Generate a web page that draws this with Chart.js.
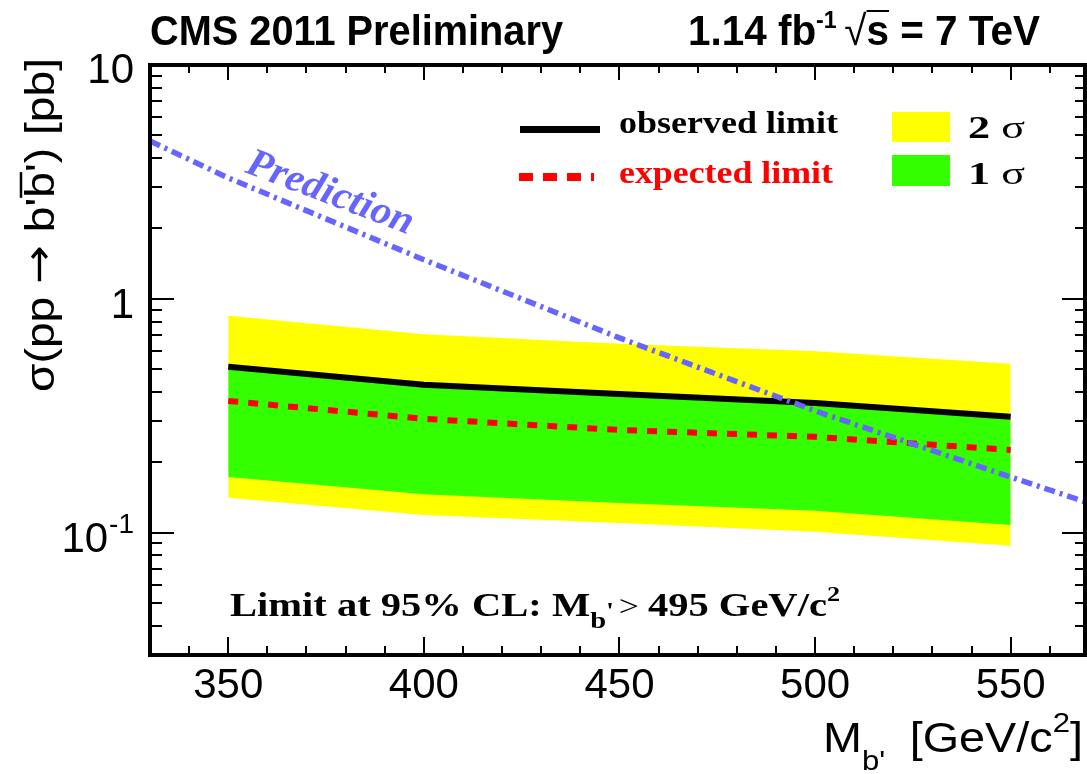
<!DOCTYPE html>
<html>
<head>
<meta charset="utf-8">
<script src="https://cdn.jsdelivr.net/npm/chart.js@4.4.1/dist/chart.umd.min.js"></script>
<style>
html,body{margin:0;padding:0;background:#fff;}
canvas{display:block;}
</style>
</head>
<body>
<canvas id="c" width="1087" height="774"></canvas>
<script>
// ---- data ----
const masses       = [350, 400, 450, 500, 550];
const observed     = [0.512, 0.429, 0.392, 0.359, 0.313];
const expected     = [0.366, 0.307, 0.275, 0.257, 0.226];
const band1Up      = [0.500, 0.420, 0.384, 0.352, 0.305];
const band1Lo      = [0.173, 0.146, 0.134, 0.124, 0.108];
const band2Up      = [0.846, 0.705, 0.642, 0.597, 0.528];
const band2Lo      = [0.141, 0.119, 0.110, 0.101, 0.088];
const predMasses   = [330, 350, 400, 450, 500, 550, 570];
const prediction   = [4.73, 3.29, 1.47, 0.681, 0.332, 0.173, 0.134];
const xTickLabels  = [350, 400, 450, 500, 550];
const yDecades     = [0.1, 1, 10];

const pts = (xs, ys) => xs.map((x, i) => ({x: x, y: ys[i]}));

const SANS = "'Liberation Sans', Arial, Helvetica, sans-serif";
const SERIF = "'Liberation Serif', 'Times New Roman', serif";

function drawParts(ctx, parts, x, y, opts) {
  opts = opts || {};
  let total = 0;
  const widths = parts.map(p => { ctx.font = p.font; const w = ctx.measureText(p.t).width + (p.gap || 0); total += w; return w; });
  const k = opts.w ? opts.w / total : 1;
  ctx.save();
  ctx.translate(x, y);
  if (opts.rot) ctx.rotate(opts.rot);
  if (opts.align === 'right') ctx.translate(-total * k, 0);
  ctx.scale(k, 1);
  let cx = 0;
  parts.forEach((p, i) => {
    ctx.font = p.font;
    ctx.fillStyle = p.color || opts.color || '#000';
    ctx.textAlign = 'left';
    ctx.textBaseline = 'alphabetic';
    ctx.fillText(p.t, cx, p.dy || 0);
    if (p.over) {
      ctx.strokeStyle = p.color || opts.color || '#000';
      ctx.lineWidth = p.overW || 2;
      ctx.beginPath();
      ctx.moveTo(cx + (p.overX0 || 0), p.over);
      ctx.lineTo(cx + widths[i] - (p.gap || 0), p.over);
      ctx.stroke();
    }
    cx += widths[i];
  });
  ctx.restore();
}

const decorPlugin = {
  id: 'decor',
  afterDraw(chart) {
    const ctx = chart.ctx;
    const xs = chart.scales.x, ys = chart.scales.y;
    const a = chart.chartArea;
    ctx.save();
    // ---- ticks ----
    ctx.strokeStyle = '#000';
    ctx.lineWidth = 2;
    ctx.beginPath();
    for (let v = 340; v <= 560; v += 10) {
      const px = Math.round(xs.getPixelForValue(v));
      const len = (v % 50 === 0) ? 18 : 9;
      ctx.moveTo(px, a.bottom); ctx.lineTo(px, a.bottom - len);
      ctx.moveTo(px, a.top); ctx.lineTo(px, a.top + (v % 50 === 0 ? 15 : 8));
    }
    const yMin = ys.min, yMax = ys.max;
    for (let d = 0.01; d < yMax * 1.01; d *= 10) {
      for (let m = 1; m <= 9; m++) {
        const v = d * m;
        if (v < yMin * 0.999 || v > yMax * 1.001) continue;
        const py = Math.round(ys.getPixelForValue(v));
        const major = (m === 1);
        ctx.moveTo(a.left, py); ctx.lineTo(a.left + (major ? 24 : 12), py);
        ctx.moveTo(a.right, py); ctx.lineTo(a.right - (major ? 23 : 10), py);
      }
    }
    ctx.stroke();
    // ---- frame ----
    ctx.lineWidth = 4;
    ctx.strokeRect(a.left, a.top, a.right - a.left, a.bottom - a.top);

    // ---- x tick labels ----
    ctx.fillStyle = '#000';
    ctx.font = '42px ' + SANS;
    ctx.textAlign = 'center';
    ctx.textBaseline = 'alphabetic';
    xTickLabels.forEach(v => ctx.fillText(String(v), xs.getPixelForValue(v), 698));

    // ---- y tick labels ----
    ctx.textAlign = 'right';
    yDecades.forEach(v => {
      const py = ys.getPixelForValue(v);
      if (v === 10) { ctx.font = '42px ' + SANS; ctx.fillText('10', 134, py + 18); }
      else if (v === 1) { ctx.font = '42px ' + SANS; ctx.fillText('1', 134, py + 19); }
      else {
        ctx.font = '28px ' + SANS;
        const w = ctx.measureText('-1').width;
        ctx.fillText('-1', 134, py);
        ctx.font = '42px ' + SANS;
        ctx.fillText('10', 134 - w - 1, py + 19);
      }
    });

    // ---- axis titles ----
    drawParts(ctx, [
      {t: 'M', font: '42px ' + SANS},
      {t: "b'", font: '28px ' + SANS, dy: 18, gap: 22},
      {t: '[GeV/c', font: '42px ' + SANS},
      {t: '2', font: '28px ' + SANS, dy: -20},
      {t: ']', font: '42px ' + SANS}
    ], 823, 752, {w: 260});

    drawParts(ctx, [
      {t: 'σ(pp ', font: '40px ' + SANS},
      {t: '→', font: "40px 'DejaVu Sans', sans-serif", dy: -2},
      {t: ' b\'', font: '40px ' + SANS},
      {t: 'b', font: '40px ' + SANS, over: -33, overW: 2.5},
      {t: '\') [pb]', font: '40px ' + SANS}
    ], 54, 392, {rot: -Math.PI / 2, w: 334});

    // ---- header ----
    drawParts(ctx, [{t: 'CMS 2011 Preliminary', font: 'bold 42px ' + SANS}], 150, 45, {w: 413});
    drawParts(ctx, [
      {t: '1.14 fb', font: 'bold 42px ' + SANS},
      {t: '-1', font: 'bold 24px ' + SANS, dy: -17, gap: 8},
      {t: '√', font: '42px ' + SANS},
      {t: 's', font: 'bold 42px ' + SANS, over: -34, overW: 2},
      {t: ' = 7 TeV', font: 'bold 42px ' + SANS}
    ], 688, 45, {w: 352});

    // ---- legend ----
    ctx.lineCap = 'butt';
    ctx.setLineDash([]);
    ctx.strokeStyle = '#000';
    ctx.lineWidth = 7;
    ctx.beginPath(); ctx.moveTo(520, 129.5); ctx.lineTo(600, 129.5); ctx.stroke();
    ctx.strokeStyle = '#ff0000';
    ctx.lineWidth = 8;
    ctx.setLineDash([14, 10]);
    ctx.beginPath(); ctx.moveTo(519, 177); ctx.lineTo(594, 177); ctx.stroke();
    ctx.setLineDash([]);
    drawParts(ctx, [{t: 'observed limit', font: 'bold 32px ' + SERIF}], 619, 133, {w: 219});
    drawParts(ctx, [{t: 'expected limit', font: 'bold 32px ' + SERIF, color: '#ff0000'}], 619, 183, {w: 214});
    ctx.fillStyle = '#ffff00';
    ctx.fillRect(892, 112, 58, 30);
    ctx.fillStyle = '#33ff00';
    ctx.fillRect(892, 155, 58, 31);
    drawParts(ctx, [{t: '2 ', font: 'bold 32px ' + SERIF}, {t: 'σ', font: '32px ' + SERIF}], 968, 138, {w: 57});
    drawParts(ctx, [{t: '1 ', font: 'bold 32px ' + SERIF}, {t: 'σ', font: '32px ' + SERIF}], 968, 184, {w: 57});

    // ---- prediction label ----
    drawParts(ctx, [{t: 'Prediction', font: 'italic bold 40px ' + SERIF, color: '#6666ff'}], 244, 172,
      {rot: Math.atan2(62, 163), w: 176});

    // ---- limit text ----
    drawParts(ctx, [
      {t: 'Limit at 95% CL: M', font: 'bold 34px ' + SERIF},
      {t: 'b', font: 'bold 24px ' + SERIF, dy: 12},
      {t: "'", font: 'bold 24px ' + SERIF, dy: 2, gap: 4},
      {t: '> ', font: '30px ' + SERIF},
      {t: '495 GeV/c', font: 'bold 34px ' + SERIF},
      {t: '2', font: 'bold 22px ' + SERIF, dy: -15}
    ], 230, 616, {w: 610});

    ctx.restore();
  }
};

new Chart(document.getElementById('c'), {
  type: 'line',
  data: {
    datasets: [
      {label: '2 sigma up', data: pts(masses, band2Up), fill: 1, backgroundColor: '#ffff00', borderWidth: 0, pointRadius: 0, order: 10},
      {label: '2 sigma down', data: pts(masses, band2Lo), fill: false, borderWidth: 0, pointRadius: 0, order: 9},
      {label: '1 sigma up', data: pts(masses, band1Up), fill: 3, backgroundColor: '#33ff00', borderWidth: 0, pointRadius: 0, order: 8},
      {label: '1 sigma down', data: pts(masses, band1Lo), fill: false, borderWidth: 0, pointRadius: 0, order: 7},
      {label: 'expected limit', data: pts(masses, expected), borderColor: '#ff0000', borderWidth: 6, borderDash: [10, 10], pointRadius: 0, fill: false, order: 3},
      {label: 'observed limit', data: pts(masses, observed), borderColor: '#000000', borderWidth: 6, pointRadius: 0, fill: false, order: 2},
      {label: 'Prediction', data: pts(predMasses, prediction), borderColor: '#6666ff', borderWidth: 5.5, borderDash: [11, 5, 3, 5], pointRadius: 0, fill: false, order: 1}
    ]
  },
  options: {
    responsive: false,
    animation: false,
    devicePixelRatio: 1,
    layout: {padding: {left: 150, right: 2, top: 65, bottom: 119}},
    plugins: {legend: {display: false}, title: {display: false}, tooltip: {enabled: false}},
    elements: {line: {tension: 0, borderCapStyle: 'butt'}},
    scales: {
      x: {type: 'linear', min: 330, max: 569, display: false},
      y: {type: 'logarithmic', min: 0.03, max: 10, display: false}
    }
  },
  plugins: [decorPlugin]
});
</script>
</body>
</html>
